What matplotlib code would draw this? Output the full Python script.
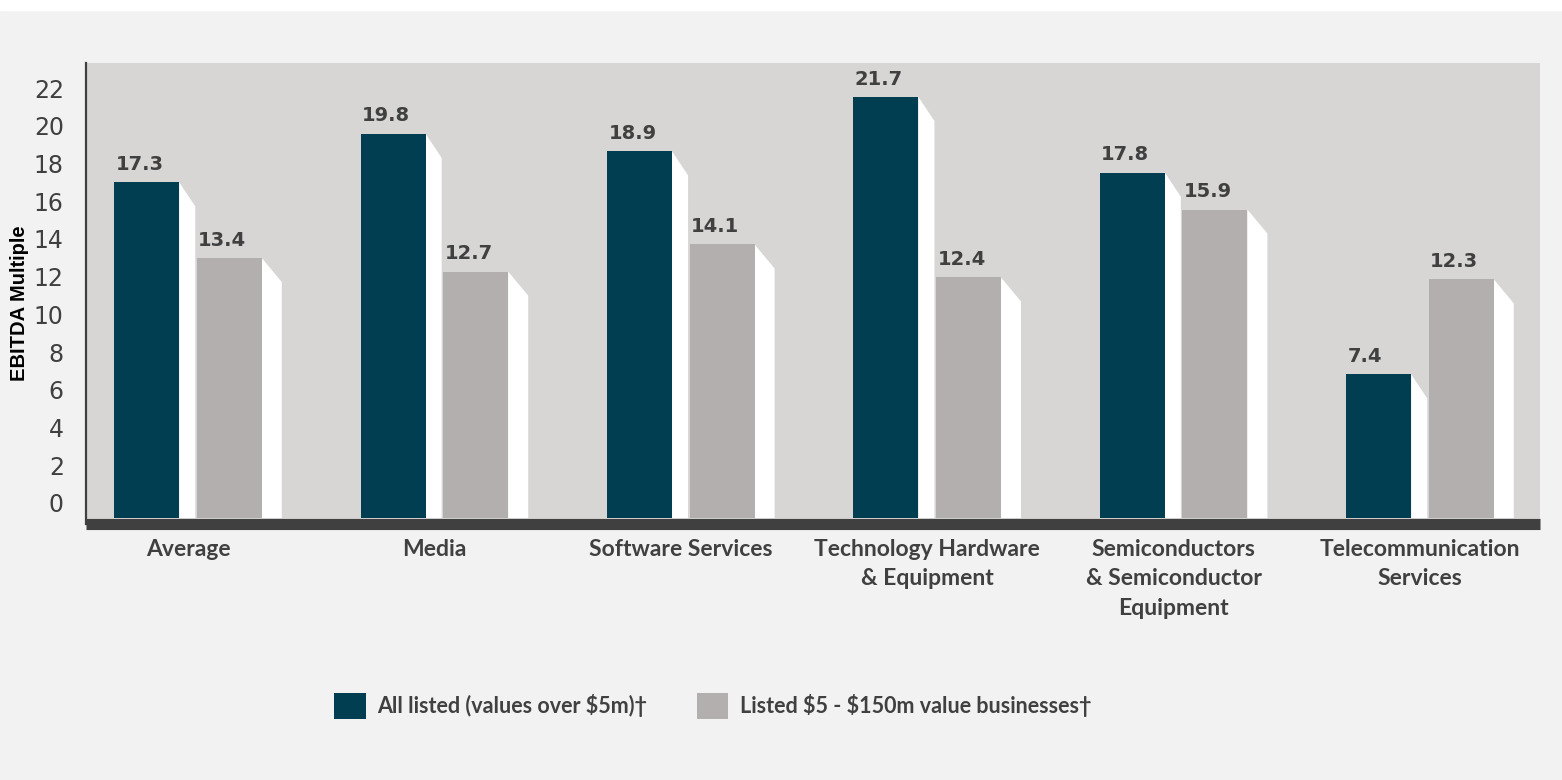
import matplotlib.pyplot as plt
from matplotlib.patches import Rectangle

categories = ['Average', 'Media', 'Software Services',
              'Technology Hardware\n& Equipment',
              'Semiconductors\n& Semiconductor\nEquipment',
              'Telecommunication\nServices']
all_listed = [17.3, 19.8, 18.9, 21.7, 17.8, 7.4]
small_listed = [13.4, 12.7, 14.1, 12.4, 15.9, 12.3]
yticks = list(range(0, 23, 2))

dark = '#023e52'
light = '#b3afae'
text_col = '#404040'

W, H = 1562, 780
fig = plt.figure(figsize=(W / 100, H / 100), dpi=100, facecolor='#f2f2f2')
fig.patches.append(Rectangle((0, 1 - 10 / H), 1, 10 / H, transform=fig.transFigure,
                             color='white', zorder=0))

# axes box in pixels
left_px, right_px, top_px, bot_px = 86, 1540, 63, 523.5
ax = fig.add_axes([left_px / W, 1 - bot_px / H, (right_px - left_px) / W, (bot_px - top_px) / H])
ax.set_facecolor('#d7d6d5')

px_y = 19.4     # pixels per unit for the bars
px_x = 246.4    # pixels per group
y0 = -(bot_px - 518) / px_y
ax.set_ylim(y0, y0 + (bot_px - top_px) / px_y)
x0 = -(188 - left_px) / px_x
ax.set_xlim(x0, x0 + (right_px - left_px) / px_x)

off = 0.1675
bw = 0.264
dy = 24 / px_y
xs = list(range(len(categories)))

b1 = ax.bar([x - off for x in xs], all_listed, width=bw, color=dark, zorder=3,
            label='All listed (values over \\$5m)†')
b2 = ax.bar([x + off for x in xs], small_listed, width=bw, color=light, zorder=3,
            label='Listed \\$5 - \\$150m value businesses†')

# white side faces (fake 3D)
for vals, sign, dx in [(all_listed, -1, 16 / px_x), (small_listed, 1, 20 / px_x)]:
    for x, v in zip(xs, vals):
        r = x + sign * off + bw / 2
        ax.fill([r, r + dx, r + dx, r], [v, v - dy, 0, 0], color='white', lw=0, zorder=2)
        ax.annotate(f'{v:.1f}', (r - bw, v), xytext=(1, 9), textcoords='offset points',
                    ha='left', va='baseline', fontsize=14, fontweight='bold',
                    color=text_col, family='DejaVu Sans')

ax.set_xticks(xs)
ax.set_xticklabels(categories, family=['Lato', 'DejaVu Sans'], fontweight='bold',
                   fontsize=16.5, color=text_col, linespacing=1.5)
ax.tick_params(axis='x', length=0, pad=11)
ax.set_yticks([])

for s in ['top', 'right']:
    ax.spines[s].set_visible(False)
ax.spines['bottom'].set_linewidth(8)
ax.spines['bottom'].set_color(text_col)
ax.spines['bottom'].set_capstyle('butt')
ax.spines['left'].set_linewidth(1.6)
ax.spines['left'].set_color(text_col)
ax.spines['bottom'].set_zorder(5)

# tick labels on their own scale, as in the original
ax2 = ax.twinx()
px_t = 18.86
t0 = (503 - bot_px) / px_t
ax2.set_ylim(t0, t0 + (bot_px - top_px) / px_t)
ax2.yaxis.tick_left()
ax2.set_yticks(yticks)
ax2.set_yticklabels([str(t) for t in yticks], fontsize=17, color=text_col)
ax2.tick_params(axis='y', length=0, pad=16)
for s in ax2.spines.values():
    s.set_visible(False)

fig.text(20 / W, 1 - 303 / H, 'EBITDA Multiple', rotation=90, ha='center', va='center',
         family='Liberation Sans', fontweight='bold', fontsize=14.5, color='black')

fig.legend(handles=[b1, b2], loc='center', bbox_to_anchor=(713 / W, 1 - 706 / H), ncol=2,
           frameon=False, prop={'family': ['Lato', 'DejaVu Sans'], 'weight': 'bold', 'size': 15.5},
           labelcolor=text_col, handlelength=1.45, handleheight=1.45, handletextpad=0.55,
           columnspacing=2.3)

fig.savefig('out.png', dpi=100, facecolor=fig.get_facecolor())
